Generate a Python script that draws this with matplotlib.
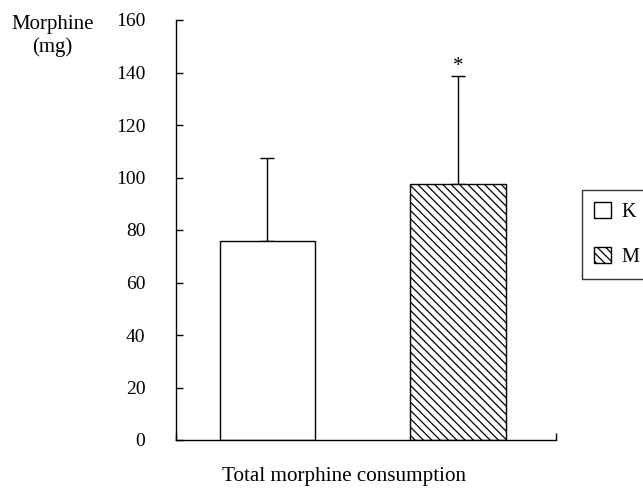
import matplotlib
matplotlib.use("Agg")
import matplotlib.pyplot as plt
from matplotlib.patches import Patch

groups = ["K", "M"]
means = [76, 97.5]
errors = [31.5, 41]
yticks = [0, 20, 40, 60, 80, 100, 120, 140, 160]

plt.rcParams['font.family'] = ['Liberation Serif', 'DejaVu Serif']
plt.rcParams['hatch.linewidth'] = 0.9
plt.rcParams['font.size'] = 14

fig = plt.figure(figsize=(6.43, 4.88), dpi=100)
ax = fig.add_axes([176/643, 1-440/488, 380/643, 420/488])

xpos = [1, 3]
hatches = ['', '\\\\\\\\']
for x, m, e, h in zip(xpos, means, errors, hatches):
    ax.bar(x, m, width=1.0, color='white', edgecolor='black', linewidth=1.0, hatch=h, zorder=2)
    ax.errorbar(x, m, yerr=[[0], [e]], fmt='none', ecolor='black', elinewidth=1.0,
                capsize=5, capthick=1.0, zorder=1)

ax.text(3, means[1] + errors[1] + 0.3, '*', ha='center', va='bottom', fontsize=15)

ax.set_xlim(0.04, 4.03)
ax.set_ylim(0, 160)
ax.set_yticks(yticks)
ax.set_xticks([0.04, 4.03])
ax.set_xticklabels([])
ax.tick_params(axis='y', direction='in', length=5, width=1, pad=22)
ax.tick_params(axis='x', direction='in', length=5, width=1)
for s in ['top', 'right']:
    ax.spines[s].set_visible(False)
for s in ['left', 'bottom']:
    ax.spines[s].set_linewidth(1.0)

fig.text(344.5/643, 1-476/488, 'Total morphine consumption', ha='center', va='center', fontsize=15.2)
fig.text(52.5/643, 1-36/488, 'Morphine\n(mg)', ha='center', va='center', fontsize=15, linespacing=1.25)

handles = [Patch(facecolor='white', edgecolor='black', hatch=h, linewidth=1.0) for h in hatches]
leg = fig.legend(handles, groups, loc='upper left', bbox_to_anchor=(582/643, 1-190/488),
                 frameon=True, fancybox=False, edgecolor='black', borderpad=0.58,
                 labelspacing=1.25, handlelength=0.88, handleheight=0.88, handletextpad=0.5,
                 borderaxespad=0, fontsize=14.5)
leg.get_frame().set_linewidth(1.0)

fig.savefig('out.png', dpi=100)
